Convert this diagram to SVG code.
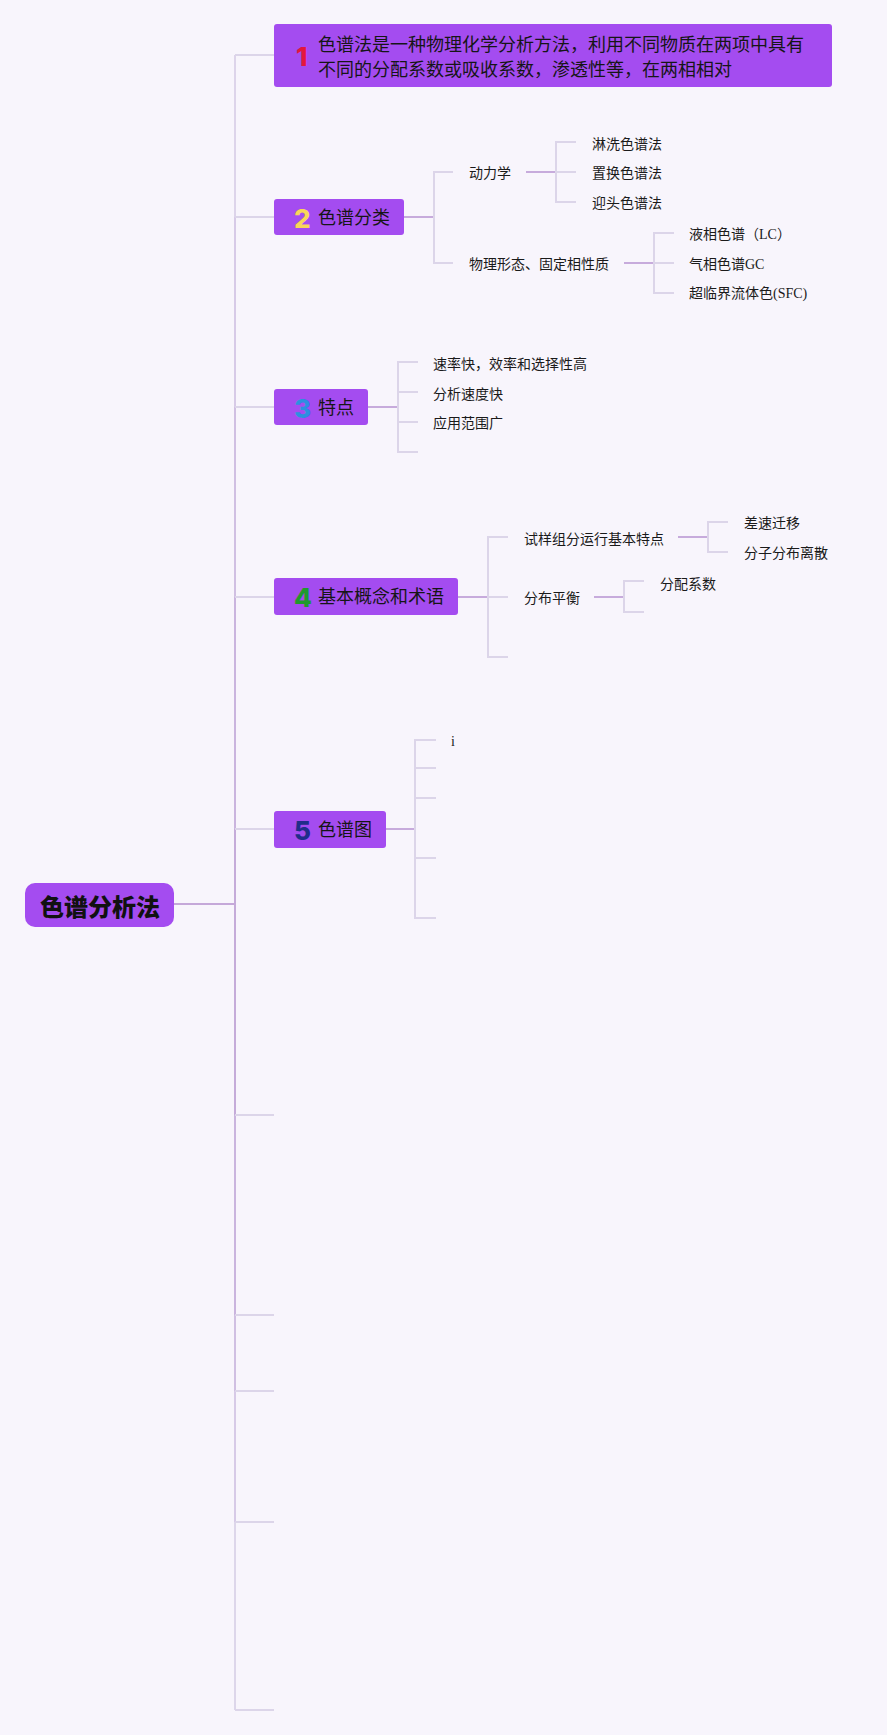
<svg xmlns="http://www.w3.org/2000/svg" width="887" height="1735" viewBox="0 0 887 1735">
<style>
.bg{fill:#f8f5fc}
.node{fill:#a44cf0}
.lbl{font-family:'Liberation Serif','Noto Sans CJK SC',serif;font-size:18px;fill:#161616;dominant-baseline:central}
.t{font-family:'Liberation Serif','Noto Sans CJK SC',serif;font-size:14px;fill:#1a1a1a;dominant-baseline:central}
.num{font-family:Inter,'Noto Sans','Liberation Sans',sans-serif;font-size:26px;font-weight:800;dominant-baseline:central}
.root{font-family:'Noto Sans CJK SC',sans-serif;font-size:24px;font-weight:900;fill:#111;dominant-baseline:central;text-anchor:middle}
.c{fill:none;stroke-width:2}
.lt{stroke:#dcd5e9}
.pu{stroke:#c7abdc}
</style>
<rect class="bg" x="0" y="0" width="887" height="1735"/>
<g id="connectors">
  <line class="c" x1="235" y1="55" x2="235" y2="217" stroke="#ddd4ea"/>
  <line class="c" x1="235" y1="217" x2="235" y2="407" stroke="#d7cae7"/>
  <line class="c" x1="235" y1="407" x2="235" y2="597" stroke="#d0bfe2"/>
  <line class="c" x1="235" y1="597" x2="235" y2="829" stroke="#cab4de"/>
  <line class="c" x1="235" y1="829" x2="235" y2="1115" stroke="#c5abd9"/>
  <line class="c" x1="235" y1="1115" x2="235" y2="1315" stroke="#cab4de"/>
  <line class="c" x1="235" y1="1315" x2="235" y2="1391" stroke="#d0bfe2"/>
  <line class="c" x1="235" y1="1391" x2="235" y2="1522" stroke="#d7cae7"/>
  <line class="c" x1="235" y1="1522" x2="235" y2="1710" stroke="#ddd6ea"/>
  <line class="c" x1="174" y1="904" x2="235" y2="904" stroke="#c5a8d9"/>
  <line class="c lt" x1="235" y1="55" x2="274" y2="55"/>
  <line class="c lt" x1="235" y1="217" x2="274" y2="217"/>
  <line class="c lt" x1="235" y1="407" x2="274" y2="407"/>
  <line class="c lt" x1="235" y1="597" x2="274" y2="597"/>
  <line class="c lt" x1="235" y1="829" x2="274" y2="829"/>
  <line class="c lt" x1="235" y1="1115" x2="274" y2="1115"/>
  <line class="c lt" x1="235" y1="1315" x2="274" y2="1315"/>
  <line class="c lt" x1="235" y1="1391" x2="274" y2="1391"/>
  <line class="c lt" x1="235" y1="1522" x2="274" y2="1522"/>
  <line class="c lt" x1="235" y1="1710" x2="274" y2="1710"/>
  <line class="c pu" x1="404" y1="217" x2="434" y2="217"/>
  <path class="c lt" d="M453 172 H434 V263 H453"/>
  <line class="c pu" x1="526" y1="172" x2="556" y2="172"/>
  <path class="c lt" d="M576 142 H556 V202 H576 M556 172 H576"/>
  <line class="c pu" x1="624" y1="263" x2="654" y2="263"/>
  <path class="c lt" d="M674 233 H654 V293 H674 M654 263 H674"/>
  <line class="c pu" x1="368" y1="407" x2="398" y2="407"/>
  <path class="c lt" d="M418 362 H398 V452 H418 M398 392 H418 M398 422 H418"/>
  <line class="c pu" x1="458" y1="597" x2="488" y2="597"/>
  <path class="c lt" d="M508 537 H488 V657 H508 M488 597 H508"/>
  <line class="c pu" x1="678" y1="537" x2="708" y2="537"/>
  <path class="c lt" d="M728 522 H708 V552 H728"/>
  <line class="c pu" x1="594" y1="597" x2="624" y2="597"/>
  <path class="c lt" d="M644 581 H624 V612 H644"/>
  <line class="c pu" x1="386" y1="829" x2="415" y2="829"/>
  <path class="c lt" d="M436 740 H415 V918 H436 M415 768 H436 M415 798 H436 M415 858 H436"/>
</g>
<g id="root">
  <rect x="25" y="883" width="149" height="44" rx="10" class="node"/>
  <text class="root" x="100" y="905">色谱分析法</text>
</g>
<g id="node1">
  <rect x="274" y="24" width="558" height="63" rx="3" class="node"/>
  <text class="num" x="296" y="56" fill="#e3173d">1</text>
  <text class="lbl" x="318" y="45">色谱法是一种物理化学分析方法，利用不同物质在两项中具有</text>
  <text class="lbl" x="318" y="70">不同的分配系数或吸收系数，渗透性等，在两相相对</text>
</g>
<g id="node2">
  <rect x="274" y="199" width="130" height="36" rx="3" class="node"/>
  <text class="num" x="294" y="218" fill="#f8d65a">2</text>
  <text class="lbl" x="318" y="218">色谱分类</text>
</g>
<g id="node2-children">
  <text class="t" x="469" y="173">动力学</text>
  <text class="t" x="469" y="264">物理形态、固定相性质</text>
  <text class="t" x="592" y="144">淋洗色谱法</text>
  <text class="t" x="592" y="173">置换色谱法</text>
  <text class="t" x="592" y="203">迎头色谱法</text>
  <text class="t" x="689" y="234">液相色谱（LC）</text>
  <text class="t" x="689" y="264">气相色谱GC</text>
  <text class="t" x="689" y="293">超临界流体色(SFC)</text>
</g>
<g id="node3">
  <rect x="274" y="389" width="94" height="36" rx="3" class="node"/>
  <text class="num" x="294" y="408" fill="#2d8fe0">3</text>
  <text class="lbl" x="318" y="408">特点</text>
</g>
<g id="node3-children">
  <text class="t" x="433" y="364">速率快，效率和选择性高</text>
  <text class="t" x="433" y="394">分析速度快</text>
  <text class="t" x="433" y="423">应用范围广</text>
</g>
<g id="node4">
  <rect x="274" y="578" width="184" height="37" rx="3" class="node"/>
  <text class="num" x="294" y="597" fill="#1f9a2e">4</text>
  <text class="lbl" x="318" y="597">基本概念和术语</text>
</g>
<g id="node4-children">
  <text class="t" x="524" y="539">试样组分运行基本特点</text>
  <text class="t" x="524" y="598">分布平衡</text>
  <text class="t" x="744" y="523">差速迁移</text>
  <text class="t" x="744" y="553">分子分布离散</text>
  <text class="t" x="660" y="584">分配系数</text>
</g>
<g id="node5">
  <rect x="274" y="811" width="112" height="37" rx="3" class="node"/>
  <text class="num" x="294" y="830" fill="#1f2d8a">5</text>
  <text class="lbl" x="318" y="830">色谱图</text>
</g>
<g id="node5-children">
  <text class="t" x="451" y="741">i</text>
</g>
</svg>
